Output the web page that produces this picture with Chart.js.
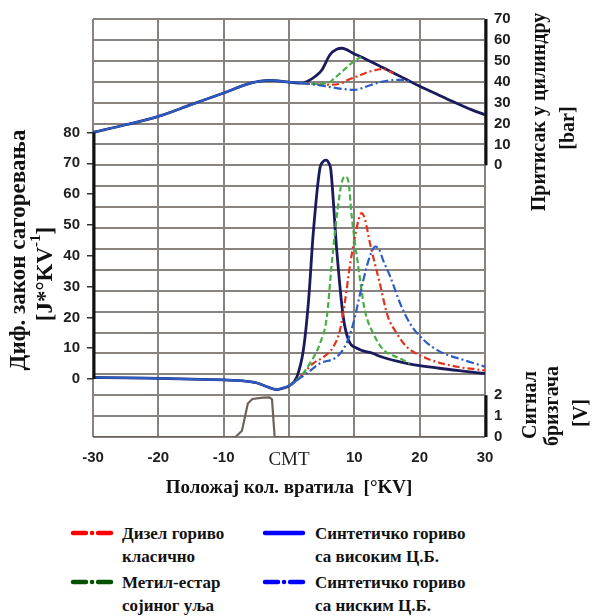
<!DOCTYPE html>
<html>
<head>
<meta charset="utf-8">
<script src="https://cdn.jsdelivr.net/npm/chart.js@4"></script>
<style>
  body { margin: 0; background: #fff; }
  #wrap { position: relative; width: 594px; height: 616px; background: #fff; }
  #chart { position: absolute; left: 0; top: 0; }
  .leg-item { position: absolute; font: bold 17px "Liberation Serif", serif; color: #111; line-height: 23px; }
  .leg-item svg { position: absolute; }
</style>
</head>
<body>
<div id="wrap">
  <canvas id="chart" width="594" height="505"></canvas>
</div>
<script>
// Положај колена [°KV] -> вредности, прочитано са слике
// Притисак у цилиндру [bar]
const pressureHighCN = [[-30,15.8],[-25,19.4],[-20,23.4],[-15,29],[-10,34.6],[-6,39.2],[-3,40.6],[0,39.8],[2,39.3],
  [2.7,40],[4,42.5],[5,45.5],[6.3,53],[7.3,55.5],[8.1,56],[10,53.3],[12,50.4],[14,47.3],[16,44.2],[18,41],
  [20,37.8],[22,35],[25,30.6],[28,26.5],[30,24.2]];
const pressureLowCN = [[-30,15.8],[-25,19.4],[-20,23.4],[-15,29],[-10,34.6],[-6,39.2],[-3,40.6],[0,39.8],[2,39.3],
  [4,38.6],[6,37.6],[8,36.6],[10,36.1],[12.4,38.3],[14,39.8],[15.5,40.6],[17,40.9],[18.5,40.2]];
const pressureDiesel = [[2,39.3],[4,38.8],[6,38.6],[7.8,39],[9,40.8],[10.4,42.5],[12.4,44.9],[14.4,46],[16,44.2]];
const pressureMethyl = [[2,39.3],[4,39],[6,39.4],[7,41.8],[8,44.5],[9,47.3],[10,50],[11,51.8]];

// Диф. закон сагоревања [J/°KV]
const heatHighCN = [[-30,0.5],[-25,0.4],[-20,0.2],[-15,0],[-10,-0.3],[-7,-0.6],[-5,-1.2],[-3,-2.8],[-2,-3.4],[-1,-3],[0,-2.2],
  [1.2,0.7],[2.2,9.4],[3,25.6],[3.7,47],[4.7,68],[5.2,70.5],[5.7,71],[6.1,70],[6.4,67.9],[7.3,42],[8.3,20.2],[9.1,12.7],
  [10.4,10],[12.9,8.3],[14,7.3],[18,5.1],[23,3.5],[27,2.5],[30,1.8]];
const heatLowCN = [[-30,0.5],[-25,0.4],[-20,0.2],[-15,0],[-10,-0.3],[-7,-0.6],[-5,-1.2],[-3,-2.8],[-2,-3.4],[-1,-3],[0,-2.2],
  [1.2,-0.4],[2.7,1.8],[4.75,5.1],[7.3,7.2],[8.8,11.6],[9.85,18.1],[10.9,27.8],[11.9,36.5],[12.6,41],[13.2,43],[13.8,42],
  [14.4,38.6],[15.5,33.2],[17,24.6],[18.5,18.1],[20.6,12.7],[23.1,8.9],[26.7,6.2],[30,4]];
const heatDiesel = [[0,-2.2],[1,-0.6],[2.2,1.8],[3.7,5.1],[5.3,7.2],[6.8,10.5],[7.8,15.9],[8.6,25.6],[9.3,36.5],[10.1,46.2],
  [10.7,52],[11.1,53.8],[11.6,52],[12.4,44],[13.9,31],[15.1,20.5],[16.5,14.8],[18,10.5],[21.1,6.7],[25.7,4],[30,2.8]];
const heatMethyl = [[0,-2.2],[1.7,0.7],[3.2,5.1],[4.75,11.6],[5.8,20.2],[6.5,36.5],[7.3,52.7],[8.1,64],[8.6,65.7],[9.1,64],
  [9.6,52.7],[10.6,36.5],[11.6,22.4],[12.9,14.8],[14.4,9.6],[17,6.7],[18.5,5]];

// Сигнал бризгача [V]
const injectorSignal = [[-30,0],[-8.2,0],[-7.2,0.3],[-6.3,1.6],[-5.6,1.82],[-4,1.88],[-3,1.9],[-2.6,1.8],[-2.2,0],[30,0]];

const xTickLabels = { '-30': '-30', '-20': '-20', '-10': '-10', '0': 'CMT', '10': '10', '20': '20', '30': '30' };
const pressureTicks = [0, 10, 20, 30, 40, 50, 60, 70];
const heatTicks = [0, 10, 20, 30, 40, 50, 60, 70, 80];
const injectorTicks = [0, 1, 2];

const legendItems = [
  { lines: ['Дизел гориво', 'класично'], color: '#ff0000', dash: 'dashdot', col: 0, row: 0 },
  { lines: ['Метил-естар', 'сојиног уља'], color: '#005200', dash: 'dashdot', col: 0, row: 1 },
  { lines: ['Синтетичко гориво', 'са високим Ц.Б.'], color: '#0000ff', dash: 'solid', col: 1, row: 0 },
  { lines: ['Синтетичко гориво', 'са ниским Ц.Б.'], color: '#0000ff', dash: 'dashdot', col: 1, row: 1 }
];

// mreža: 20 redova; pritisak 10 bar/red (0 na redu 13), brizgač 1 V/red
const GRID = '#898380';
const NAVY = '#1b1a5c';
const BLUE = '#2d5cc4';
const RED = '#e3321c';
const GREEN = '#46b046';
const tickFont = { family: '"Liberation Sans", Arial, sans-serif', size: 15, weight: 'bold' };
const serif = '"Liberation Serif", "Times New Roman", serif';

const xy = pts => pts.map(([x, y]) => ({ x, y }));
const dashDot = [8, 3, 2, 3];

function line(label, pts, axis, color, opts) {
  return Object.assign({
    label: label,
    data: xy(pts),
    yAxisID: axis,
    borderColor: color,
    borderWidth: 2.2,
    pointRadius: 0,
    fill: false,
    cubicInterpolationMode: 'monotone'
  }, opts || {});
}

const datasets = [
  line('p visoki CB', pressureHighCN, 'pres', NAVY, { borderWidth: 2.8, order: 5 }),
  line('p dizel', pressureDiesel, 'pres', RED, { borderDash: [7, 3, 2, 3], order: 3 }),
  line('p metil', pressureMethyl, 'pres', GREEN, { borderDash: [6, 3], order: 2 }),
  line('p niski CB', pressureLowCN, 'pres', BLUE, {
    borderDash: dashDot, order: 1,
    segment: { borderDash: c => c.p0.parsed.x < 2 ? [] : undefined }
  }),
  line('q visoki CB', heatHighCN, 'heat', NAVY, { borderWidth: 2.8, order: 5 }),
  line('q dizel', heatDiesel, 'heat', RED, { borderDash: [7, 3, 2, 3], order: 3 }),
  line('q metil', heatMethyl, 'heat', GREEN, { borderDash: [6, 3], order: 2 }),
  line('q niski CB', heatLowCN, 'heat', BLUE, {
    borderDash: dashDot, order: 1,
    segment: { borderDash: c => c.p0.parsed.x < 0.5 ? [] : undefined }
  }),
  line('brizgac', injectorSignal, 'inj', '#6d615b', { borderWidth: 2.2, cubicInterpolationMode: 'default', tension: 0, order: 6 })
];

function rotText(ctx, parts, cx, cy) {
  // parts: [{t, font, dy}] crta se odozdo nagore
  ctx.save();
  ctx.translate(cx, cy);
  ctx.rotate(-Math.PI / 2);
  let total = 0;
  parts.forEach(p => { ctx.font = p.font; p.w = ctx.measureText(p.t).width; total += p.w; });
  let x = -total / 2;
  ctx.textBaseline = 'middle';
  ctx.textAlign = 'left';
  parts.forEach(p => {
    ctx.font = p.font;
    ctx.fillText(p.t, x, p.dy || 0);
    x += p.w;
  });
  ctx.restore();
}

const overlay = {
  id: 'overlay',
  afterDraw(chart) {
    const { ctx, chartArea, scales } = chart;
    ctx.save();
    ctx.strokeStyle = '#111';
    ctx.lineWidth = 3;
    const bar = (x, y1, y2) => { ctx.beginPath(); ctx.moveTo(x, y1); ctx.lineTo(x, y2); ctx.stroke(); };
    bar(chartArea.left + 1, scales.heat.getPixelForValue(0), scales.heat.getPixelForValue(80));
    bar(chartArea.right + 1, scales.pres.getPixelForValue(0), scales.pres.getPixelForValue(70));
    bar(chartArea.right + 1, scales.inj.getPixelForValue(0), scales.inj.getPixelForValue(2));

    ctx.fillStyle = '#111';
    const big = 'bold 20px ' + serif;
    const left = 'bold 23px ' + serif;
    const sup = 'bold 15px ' + serif;
    rotText(ctx, [{ t: 'Диф. закон сагоревања', font: left }], 19, 250);
    rotText(ctx, [{ t: '[J*°KV', font: left }, { t: '-1', font: sup, dy: -10 }, { t: ']', font: left }], 46, 274);
    rotText(ctx, [{ t: 'Притисак у цилиндру', font: big }], 540, 112);
    rotText(ctx, [{ t: '[bar]', font: big }], 569, 128);
    rotText(ctx, [{ t: 'Сигнал', font: big }], 531, 405);
    rotText(ctx, [{ t: 'бризгача', font: big }], 553, 406);
    rotText(ctx, [{ t: '[V]', font: big }], 582, 413);
    ctx.restore();
  }
};

new Chart(document.getElementById('chart'), {
  type: 'line',
  data: { datasets: datasets },
  plugins: [overlay],
  options: {
    responsive: false,
    animation: false,
    events: [],
    layout: { padding: { top: 19, left: 0, right: 0, bottom: 0 } },
    plugins: { legend: { display: false }, tooltip: { enabled: false } },
    scales: {
      x: {
        type: 'linear', min: -30, max: 30,
        ticks: {
          stepSize: 10, padding: 12, color: '#1e1e1e',
          callback: v => xTickLabels[String(v)] ?? '',
          font: c => (c.tick && c.tick.value === 0)
            ? { family: serif, size: 19, weight: 'normal' }
            : tickFont
        },
        grid: { color: GRID, lineWidth: 2, drawTicks: false },
        border: { display: false },
        title: {
          display: true, text: 'Положај кол. вратила  [°KV]', color: '#111',
          font: { family: serif, size: 19, weight: 'bold' }, padding: { top: 2, bottom: 6 }
        },
        afterFit: s => { s.height = 68; }
      },
      rows: {
        type: 'linear', position: 'right', min: 0, max: 20,
        ticks: {
          stepSize: 1, autoSkip: false, padding: 9, color: '#1e1e1e', font: tickFont,
          callback: v => {
            if (v >= 13 && pressureTicks.includes((v - 13) * 10)) return String((v - 13) * 10);
            if (injectorTicks.includes(v)) return String(v);
            return '';
          }
        },
        grid: { color: GRID, lineWidth: 2, drawTicks: false },
        border: { display: false },
        afterFit: s => { s.width = 109; }
      },
      heat: {
        type: 'linear', position: 'left', min: -18.8, max: 116.8,
        ticks: {
          stepSize: 10, autoSkip: false, padding: 7, color: '#1e1e1e', font: tickFont,
          callback: v => heatTicks.includes(Math.round(v)) && Math.abs(v - Math.round(v)) < 1e-6 ? String(Math.round(v)) : ''
        },
        grid: {
          drawOnChartArea: false, tickLength: 6, lineWidth: 1.5,
          tickColor: c => (c.tick && heatTicks.includes(c.tick.value)) ? '#333' : 'rgba(0,0,0,0)'
        },
        border: { display: false },
        afterFit: s => { s.width = 93; }
      },
      pres: { type: 'linear', display: false, min: -130, max: 70 },
      inj: { type: 'linear', display: false, min: 0, max: 20 }
    }
  }
});

// legenda
const wrap = document.getElementById('wrap');
const colX = [[70, 122], [262, 315]];
const rowY = [522, 571];
legendItems.forEach(it => {
  const d = document.createElement('div');
  d.className = 'leg-item';
  d.style.left = colX[it.col][1] + 'px';
  d.style.top = rowY[it.row] + 'px';
  d.innerHTML = it.lines.join('<br>');
  wrap.appendChild(d);
  const dash = it.dash === 'solid' ? '' : 'stroke-dasharray="13 6 0.1 6 13"';
  const s = document.createElementNS('http://www.w3.org/2000/svg', 'svg');
  s.setAttribute('width', '46');
  s.setAttribute('height', '8');
  s.style.position = 'absolute';
  s.style.left = colX[it.col][0] + 'px';
  s.style.top = (rowY[it.row] + 7) + 'px';
  s.innerHTML = '<line x1="3" y1="4" x2="41" y2="4" stroke="' + it.color + '" stroke-width="4.5" stroke-linecap="round" ' + dash + '/>';
  wrap.appendChild(s);
});
</script>
</body>
</html>
